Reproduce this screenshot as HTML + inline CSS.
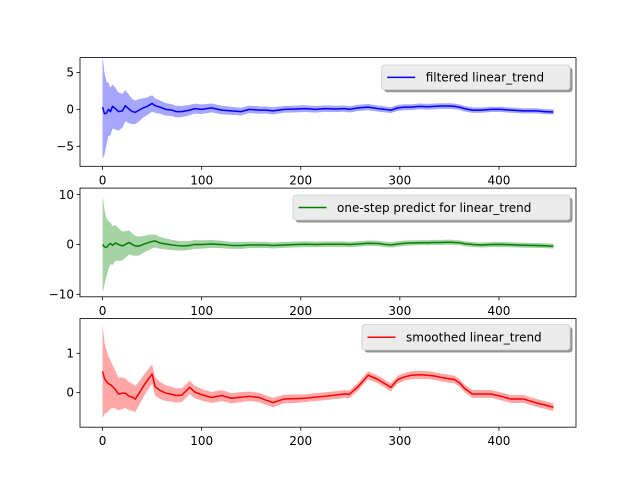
<!DOCTYPE html>
<html><head><meta charset="utf-8"><style>
body{margin:0;background:#fff}
svg{display:block;font-family:"DejaVu Sans","Liberation Sans",sans-serif}
</style></head><body>
<svg id="fig" width="640" height="480" viewBox="0 0 640 480"></svg>
<script>
const tSteps=[0,2,4,6,8,10,13,16,20,23,27,30,33,37,41,45,50,53,58,64,70,74,80,88,93,100,110,120,130,140,148,158,165,172,183,195,204,215,224,235,244,249,258,268,278,285,291,298,305,312,320,328,335,342,350,355,360,365,373,382,392,402,412,425,438,446,455];
const filteredMean=[0.3,-0.6,-0.5,0.0,-0.3,0.4,0.1,-0.3,-0.2,0.5,0.0,-0.3,-0.4,-0.1,0.2,0.4,0.8,0.5,0.3,0.0,-0.1,-0.3,-0.3,-0.1,0.1,0.0,0.2,-0.1,-0.2,-0.3,0.0,-0.1,-0.1,-0.2,0.0,0.05,0.1,0.0,0.1,0.05,0.1,0.0,0.2,0.3,0.1,0.0,-0.1,0.2,0.3,0.3,0.4,0.35,0.4,0.45,0.45,0.4,0.3,0.1,-0.1,-0.1,0.0,0.0,-0.1,-0.2,-0.2,-0.3,-0.35];
const filteredSd=[7,5.5,4.2,3.6,3.2,3.0,2.8,2.6,2.3,2.1,1.9,1.7,1.6,1.5,1.3,1.2,1.1,1.0,0.9,0.85,0.8,0.78,0.75,0.7,0.68,0.65,0.6,0.58,0.55,0.52,0.5,0.5,0.48,0.48,0.46,0.45,0.45,0.44,0.44,0.43,0.43,0.42,0.42,0.42,0.41,0.41,0.4,0.4,0.4,0.4,0.39,0.39,0.39,0.38,0.38,0.38,0.37,0.37,0.37,0.36,0.36,0.36,0.35,0.35,0.35,0.35,0.35];
const predictMean=[0.0,-0.5,-0.6,-0.1,0.2,-0.2,0.3,0.0,-0.3,0.0,0.4,0.0,-0.3,-0.3,0.0,0.3,0.6,0.7,0.3,0.1,-0.1,-0.2,-0.3,-0.2,0.0,0.0,0.1,0.0,-0.2,-0.2,-0.1,-0.1,-0.1,-0.2,-0.1,0.0,0.05,0.0,0.05,0.05,0.05,0.0,0.1,0.25,0.2,0.0,-0.1,0.1,0.25,0.3,0.35,0.35,0.4,0.4,0.45,0.4,0.35,0.15,0.0,-0.1,0.0,0.0,-0.05,-0.15,-0.2,-0.25,-0.35];
const predictSd=[9.8,7.5,5.8,4.8,4.2,3.9,3.6,3.3,2.9,2.7,2.4,2.2,2.0,1.9,1.7,1.6,1.4,1.3,1.2,1.1,1.05,1.0,0.95,0.9,0.88,0.85,0.8,0.75,0.7,0.68,0.65,0.65,0.62,0.62,0.6,0.58,0.58,0.57,0.57,0.56,0.56,0.55,0.55,0.55,0.54,0.54,0.53,0.53,0.53,0.52,0.52,0.52,0.51,0.51,0.51,0.5,0.5,0.5,0.5,0.5,0.5,0.5,0.5,0.5,0.5,0.5,0.5];
const smoothedMean=[0.54,0.35,0.28,0.22,0.2,0.15,0.07,-0.04,-0.02,-0.02,-0.1,-0.12,-0.17,-0.02,0.15,0.3,0.47,0.15,0.05,-0.02,-0.05,-0.08,-0.07,0.13,0.01,-0.06,-0.13,-0.08,-0.15,-0.12,-0.1,-0.13,-0.2,-0.26,-0.17,-0.16,-0.15,-0.12,-0.1,-0.07,-0.04,-0.05,0.15,0.44,0.33,0.22,0.13,0.33,0.4,0.44,0.45,0.44,0.42,0.38,0.35,0.33,0.25,0.11,-0.04,-0.04,-0.04,-0.1,-0.17,-0.17,-0.27,-0.32,-0.38];
const smoothedSd=[1.2,0.9,0.8,0.7,0.62,0.55,0.48,0.42,0.4,0.38,0.36,0.35,0.33,0.3,0.28,0.26,0.25,0.24,0.22,0.2,0.19,0.18,0.18,0.17,0.16,0.15,0.14,0.14,0.13,0.13,0.12,0.12,0.12,0.12,0.11,0.11,0.1,0.1,0.1,0.1,0.1,0.1,0.1,0.1,0.1,0.1,0.1,0.1,0.1,0.1,0.1,0.1,0.1,0.1,0.1,0.1,0.1,0.1,0.1,0.1,0.1,0.1,0.1,0.1,0.1,0.1,0.1];
const xTicks=[0,100,200,300,400];
const panels=[
 {name:'filtered',top:57.6,bot:166.3,ymin:-7.7,ymax:7.0,yTicks:[5,0,-5],mean:filteredMean,sd:filteredSd,color:'#0000ff',fill:'#0000ff',label:'filtered linear_trend',lg:[381.7,65,570,89.7]},
 {name:'predict',top:188.1,bot:296.8,ymin:-10.5,ymax:11.3,yTicks:[10,0,-10],mean:predictMean,sd:predictSd,color:'#008000',fill:'#008000',label:'one-step predict for linear_trend',lg:[293,195,570,220]},
 {name:'smoothed',top:318.5,bot:427.2,ymin:-0.89,ymax:1.89,yTicks:[1,0],mean:smoothedMean,sd:smoothedSd,color:'#ff0000',fill:'#ff0000',label:'smoothed linear_trend',lg:[362,324.5,570,350]}
];
const NS='http://www.w3.org/2000/svg';
const svg=document.getElementById('fig');
const L=80,R=576,XMIN=-22.75,XMAX=477.75;
const xs=t=>L+(t-XMIN)/(XMAX-XMIN)*(R-L);
function mk(tag,attrs,parent){const e=document.createElementNS(NS,tag);for(const k in attrs)e.setAttribute(k,attrs[k]);(parent||svg).appendChild(e);return e;}
panels.forEach(p=>{
 const ys=v=>p.bot-(v-p.ymin)/(p.ymax-p.ymin)*(p.bot-p.top);
 const g=mk('g',{});
 
 
 let up=tSteps.map((t,i)=>xs(t).toFixed(2)+','+ys(p.mean[i]+p.sd[i]).toFixed(2));
 let dn=tSteps.map((t,i)=>xs(t).toFixed(2)+','+ys(p.mean[i]-p.sd[i]).toFixed(2)).reverse();
 const band=mk('polygon',{points:up.concat(dn).join(' '),fill:p.fill,'fill-opacity':0.35},g);
 
 
 const line=mk('polyline',{points:tSteps.map((t,i)=>xs(t).toFixed(2)+','+ys(p.mean[i]).toFixed(2)).join(' '),fill:'none',stroke:p.color,'stroke-width':1.5,'stroke-linejoin':'round'},g);
 
 
 const frame=mk('rect',{x:L,y:p.top,width:R-L,height:p.bot-p.top,fill:'none',stroke:'#000','stroke-width':0.8},g);
 
 
 xTicks.forEach(t=>{
  mk('line',{x1:xs(t),x2:xs(t),y1:p.bot,y2:p.bot+3.5,stroke:'#000','stroke-width':0.8},g);
  const tx=mk('text',{x:xs(t),y:p.bot+18,'text-anchor':'middle','font-size':12,fill:'#000'},g);
  tx.textContent=t;
  
  
 });
 p.yTicks.forEach(v=>{
  mk('line',{x1:L-3.5,x2:L,y1:ys(v),y2:ys(v),stroke:'#000','stroke-width':0.8},g);
  const tx=mk('text',{x:L-6,y:ys(v)+4.3,'text-anchor':'end','font-size':12,fill:'#000'},g);
  tx.textContent=v<0?'\u2212'+Math.abs(v):v;
  
  
 });
 const [x1,y1,x2,y2]=p.lg;
 const lgG=mk('g',{},g);
 
 
 mk('rect',{x:x1+2.5,y:y1+2.5,width:x2-x1,height:y2-y1,rx:3,fill:'#888','fill-opacity':0.9},lgG);
 mk('rect',{x:x1,y:y1,width:x2-x1,height:y2-y1,rx:3,fill:'#ececec',stroke:'#cccccc','stroke-width':0.8},lgG);
 mk('line',{x1:x1+5.5,x2:x1+33.5,y1:(y1+y2)/2,y2:(y1+y2)/2,stroke:p.color,'stroke-width':1.5},lgG);
 const lt=mk('text',{x:x1+44,y:(y1+y2)/2+4.3,'font-size':12,fill:'#000'},lgG);
 lt.textContent=p.label;
 
 
});
</script>
</body></html>
